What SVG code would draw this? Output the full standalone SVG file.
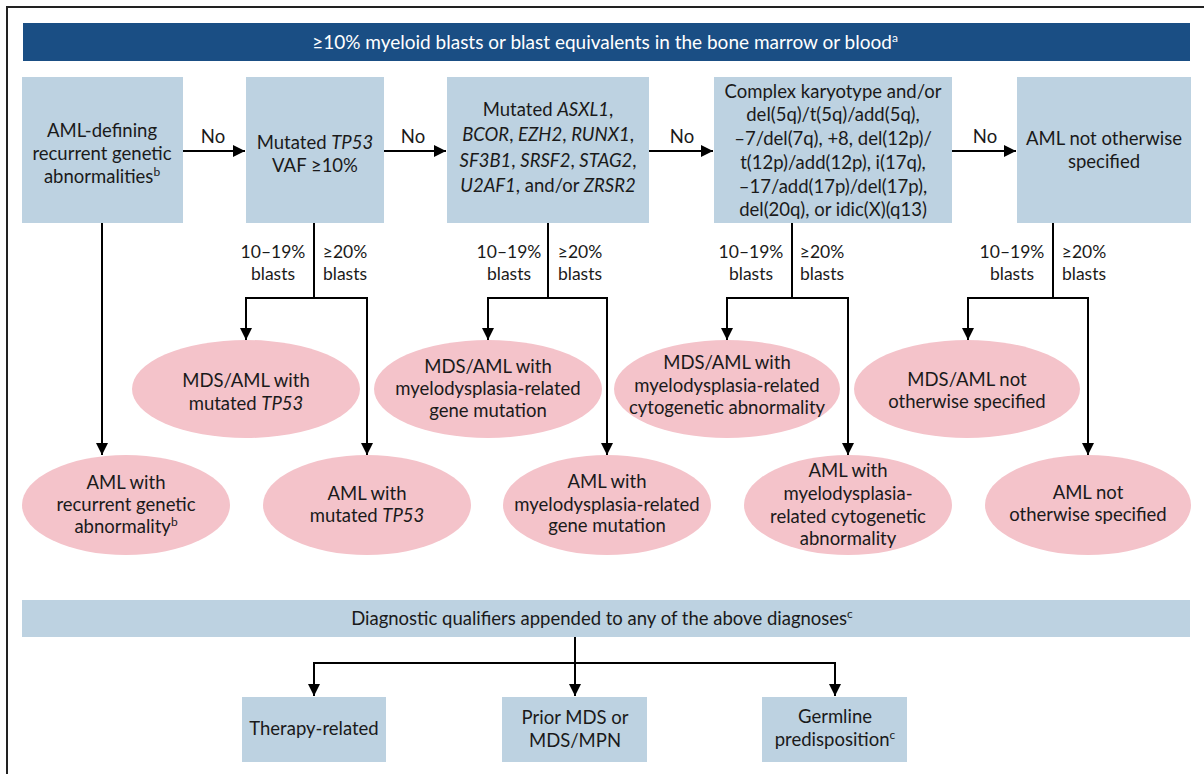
<svg xmlns="http://www.w3.org/2000/svg" width="1204" height="774" viewBox="0 0 1204 774">
<defs>
<marker id="ah" viewBox="0 0 12 12" refX="12" refY="6" markerWidth="12" markerHeight="12" markerUnits="userSpaceOnUse" orient="auto">
<path d="M0,0 L12,6 L0,12 z" fill="#000"/>
</marker>
</defs>
<style>
text{font-family:Lato,"Open Sans","Liberation Sans",sans-serif;font-size:18.5px;fill:#1a1a1a;text-anchor:middle}
.hdr{fill:#ffffff;font-size:19px}
.box{fill:#bdd2e1}
.ell{fill:#f4c3ca}
.ln{fill:none;stroke:#000;stroke-width:2}
.arr{fill:none;stroke:#000;stroke-width:2;marker-end:url(#ah)}
.lbl{font-size:17.5px}
.no{font-size:18.5px}
.it{font-style:italic}
.sup{font-size:12px}
</style>
<rect width="1204" height="774" fill="#ffffff"/>
<path d="M1204,7 H7 V774" fill="none" stroke="#222" stroke-width="2"/>

<g id="header">
<rect x="23" y="23" width="1167" height="38" fill="#1a4e84"/>
<text class="hdr" x="605" y="49">≥10% myeloid blasts or blast equivalents in the bone marrow or blood<tspan class="sup" dy="-7">a</tspan></text>
</g>

<g id="box1">
<rect class="box" x="22" y="77" width="161" height="146"/>
<text x="102" y="137">AML-defining</text>
<text x="102" y="160">recurrent genetic</text>
<text x="102" y="183">abnormalities<tspan class="sup" dy="-7">b</tspan></text>
</g>
<g id="box2">
<rect class="box" x="246" y="77" width="138" height="146"/>
<text x="315" y="149">Mutated <tspan class="it">TP53</tspan></text>
<text x="315" y="172">VAF ≥10%</text>
</g>
<g id="box3">
<rect class="box" x="447" y="77" width="202" height="146"/>
<text x="548" y="116">Mutated <tspan class="it">ASXL1</tspan>,</text>
<text x="548" y="141"><tspan class="it">BCOR</tspan>, <tspan class="it">EZH2</tspan>, <tspan class="it">RUNX1</tspan>,</text>
<text x="548" y="167"><tspan class="it">SF3B1</tspan>, <tspan class="it">SRSF2</tspan>, <tspan class="it">STAG2</tspan>,</text>
<text x="548" y="192"><tspan class="it">U2AF1</tspan>, and/or <tspan class="it">ZRSR2</tspan></text>
</g>
<g id="box4">
<rect class="box" x="714" y="77" width="238" height="146"/>
<text x="833" y="98">Complex karyotype and/or</text>
<text x="833" y="121">del(5q)/t(5q)/add(5q),</text>
<text x="833" y="145">–7/del(7q), +8, del(12p)/</text>
<text x="833" y="169">t(12p)/add(12p), i(17q),</text>
<text x="833" y="193">–17/add(17p)/del(17p),</text>
<text x="833" y="216">del(20q), or idic(X)(q13)</text>
</g>
<g id="box5">
<rect class="box" x="1017" y="77" width="174" height="146"/>
<text x="1104" y="145">AML not otherwise</text>
<text x="1104" y="168">specified</text>
</g>

<g id="e1">
<ellipse class="ell" cx="246" cy="389" rx="114" ry="49"/>
<text x="246" y="387">MDS/AML with</text>
<text x="246" y="410">mutated <tspan class="it">TP53</tspan></text>
</g>
<g id="e2">
<ellipse class="ell" cx="488" cy="389" rx="114" ry="49"/>
<text x="488" y="373">MDS/AML with</text>
<text x="488" y="395">myelodysplasia-related</text>
<text x="488" y="417">gene mutation</text>
</g>
<g id="e3">
<ellipse class="ell" cx="727" cy="389" rx="113" ry="49"/>
<text x="727" y="369">MDS/AML with</text>
<text x="727" y="392">myelodysplasia-related</text>
<text x="727" y="414">cytogenetic abnormality</text>
</g>
<g id="e4">
<ellipse class="ell" cx="967" cy="389" rx="113" ry="49"/>
<text x="967" y="386">MDS/AML not</text>
<text x="967" y="408">otherwise specified</text>
</g>

<g id="f1">
<ellipse class="ell" cx="126" cy="505" rx="104" ry="50"/>
<text x="126" y="489">AML with</text>
<text x="126" y="511">recurrent genetic</text>
<text x="126" y="533">abnormality<tspan class="sup" dy="-7">b</tspan></text>
</g>
<g id="f2">
<ellipse class="ell" cx="367" cy="505" rx="104" ry="50"/>
<text x="367" y="500">AML with</text>
<text x="367" y="522">mutated <tspan class="it">TP53</tspan></text>
</g>
<g id="f3">
<ellipse class="ell" cx="607" cy="505" rx="104" ry="50"/>
<text x="607" y="488">AML with</text>
<text x="607" y="511">myelodysplasia-related</text>
<text x="607" y="532">gene mutation</text>
</g>
<g id="f4">
<ellipse class="ell" cx="848" cy="505" rx="104" ry="50"/>
<text x="848" y="477">AML with</text>
<text x="848" y="500">myelodysplasia-</text>
<text x="848" y="523">related cytogenetic</text>
<text x="848" y="545">abnormality</text>
</g>
<g id="f5">
<ellipse class="ell" cx="1088" cy="505" rx="103" ry="50"/>
<text x="1088" y="499">AML not</text>
<text x="1088" y="521">otherwise specified</text>
</g>

<g id="qualifiers">
<rect class="box" x="22" y="600" width="1168" height="37"/>
<text x="602" y="625">Diagnostic qualifiers appended to any of the above diagnoses<tspan class="sup" dy="-7">c</tspan></text>
</g>
<g id="q1">
<rect class="box" x="242" y="697" width="144" height="65"/>
<text x="314" y="735">Therapy-related</text>
</g>
<g id="q2">
<rect class="box" x="502" y="697" width="145" height="65"/>
<text x="575" y="724">Prior MDS or</text>
<text x="575" y="747">MDS/MPN</text>
</g>
<g id="q3">
<rect class="box" x="762" y="697" width="145" height="65"/>
<text x="835" y="723">Germline</text>
<text x="835" y="746">predisposition<tspan class="sup" dy="-7">c</tspan></text>
</g>

<g id="connectors">
<path class="arr" d="M183,151 H245"/>
<path class="arr" d="M384,151 H446"/>
<path class="arr" d="M649,151 H713"/>
<path class="arr" d="M952,151 H1016"/>
<text class="no" x="213" y="143">No</text>
<text class="no" x="413" y="143">No</text>
<text class="no" x="682" y="143">No</text>
<text class="no" x="985" y="143">No</text>

<path class="arr" d="M102,223 V455"/>

<path class="ln" d="M314,223 V298"/>
<path class="arr" d="M314,298 H246 V340"/>
<path class="arr" d="M314,298 H367 V455"/>
<text class="lbl" x="273" y="258">10–19%</text>
<text class="lbl" x="273" y="280">blasts</text>
<text class="lbl" x="345" y="258">≥20%</text>
<text class="lbl" x="345" y="280">blasts</text>

<path class="ln" d="M548,223 V298"/>
<path class="arr" d="M548,298 H488 V340"/>
<path class="arr" d="M548,298 H607 V455"/>
<text class="lbl" x="509" y="258">10–19%</text>
<text class="lbl" x="509" y="280">blasts</text>
<text class="lbl" x="580" y="258">≥20%</text>
<text class="lbl" x="580" y="280">blasts</text>

<path class="ln" d="M792,223 V298"/>
<path class="arr" d="M792,298 H727 V340"/>
<path class="arr" d="M792,298 H848 V455"/>
<text class="lbl" x="751" y="258">10–19%</text>
<text class="lbl" x="751" y="280">blasts</text>
<text class="lbl" x="822" y="258">≥20%</text>
<text class="lbl" x="822" y="280">blasts</text>

<path class="ln" d="M1053,223 V298"/>
<path class="arr" d="M1053,298 H968 V340"/>
<path class="arr" d="M1053,298 H1088 V455"/>
<text class="lbl" x="1012" y="258">10–19%</text>
<text class="lbl" x="1012" y="280">blasts</text>
<text class="lbl" x="1084" y="258">≥20%</text>
<text class="lbl" x="1084" y="280">blasts</text>

<path class="ln" d="M575,637 V663"/>
<path class="arr" d="M575,663 H314 V696"/>
<path class="arr" d="M575,663 V696"/>
<path class="arr" d="M575,663 H835 V696"/>
</g>
</svg>
